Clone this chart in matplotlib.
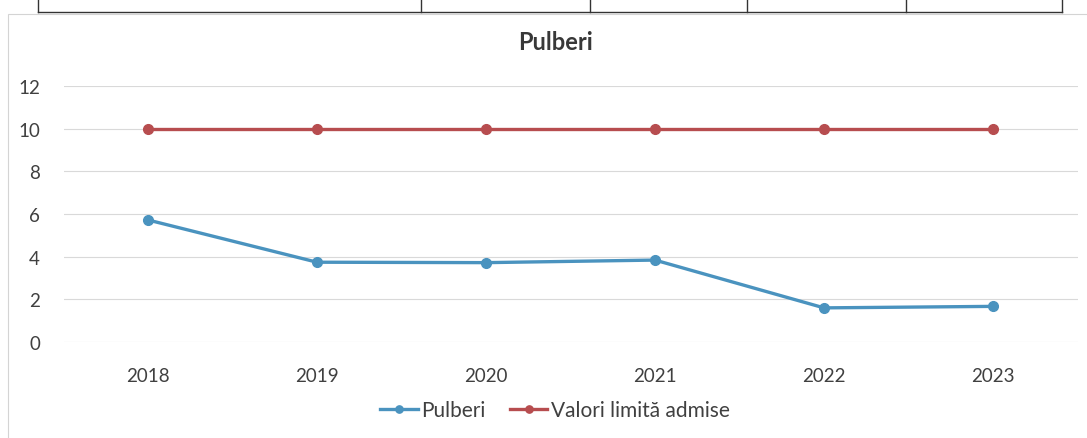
import matplotlib
matplotlib.use('Agg')
import matplotlib.pyplot as plt
from matplotlib.lines import Line2D
from matplotlib.patches import Rectangle

# --- Data ---
years = ['2018', '2019', '2020', '2021', '2022', '2023']
pulberi = [5.72, 3.74, 3.72, 3.84, 1.6, 1.67]
valori_limita = [10, 10, 10, 10, 10, 10]

BLUE = '#4a93bf'
RED = '#b74d4f'
TEXT = '#404040'

plt.rcParams['font.family'] = ['Lato', 'DejaVu Sans']

W, H = 1087, 439
fig = plt.figure(figsize=(W / 100, H / 100), dpi=100)
fig.patch.set_facecolor('white')

# chart area frame (scanned page)
fig.add_artist(Rectangle((8 / W, -0.05), 1.1, 1 - 15 / H + 0.05, transform=fig.transFigure,
                         fill=False, edgecolor='#d4d4d4', linewidth=0.8))

# bottom edge of the table above the chart
ty = 1 - 13 / H
fig.add_artist(Line2D([38 / W, 1062 / W], [ty, ty], transform=fig.transFigure,
                      color='#333333', linewidth=1.0))
for px in [38, 421, 590, 747, 906, 1062]:
    fig.add_artist(Line2D([px / W, px / W], [ty, 1.0], transform=fig.transFigure,
                          color='#333333', linewidth=1.0))

ax = fig.add_axes([63.5 / W, 1 - 343 / H, (1077.5 - 63.5) / W, (343 - 87) / H])
x = list(range(len(years)))

ax.plot(x, pulberi, color=BLUE, linewidth=2.4, marker='o', markersize=7, label='Pulberi')
ax.plot(x, valori_limita, color=RED, linewidth=2.4, marker='o', markersize=7,
        label='Valori limită admise')

ax.set_xlim(-0.5, len(years) - 0.5)
ax.set_ylim(0, 12)
ax.set_yticks(range(0, 13, 2))
ax.set_xticks(x)
ax.set_xticklabels(years)
ax.grid(axis='y', color='#d9d9d9', linewidth=0.8)
ax.set_axisbelow(True)
for s in ax.spines.values():
    s.set_visible(False)
ax.tick_params(axis='both', length=0, labelsize=13.5, labelcolor=TEXT)
ax.tick_params(axis='y', pad=17)
ax.tick_params(axis='x', pad=18)

fig.text(555 / W, 1 - 43 / H, 'Pulberi', ha='center', va='center',
         fontsize=17, fontweight='bold', color='#383838')

ax.legend(loc='center', bbox_to_anchor=(0.4845, (343 - 411) / (343 - 87)), ncol=2,
          frameon=False, fontsize=15, handlelength=1.8, handletextpad=0.15,
          columnspacing=1.2, labelcolor=TEXT, markerscale=0.75)

fig.savefig('out.png', dpi=100)
